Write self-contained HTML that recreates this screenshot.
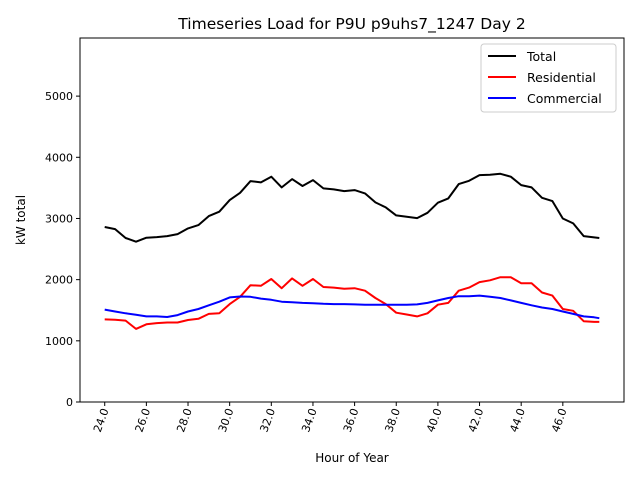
<!DOCTYPE html>
<html><head><meta charset="utf-8"><style>
body{margin:0;background:#fff;}
svg text{font-family:"DejaVu Sans","Liberation Sans",sans-serif;}
</style></head><body>
<svg id="chart" width="640" height="480">
<text x="352" y="29" font-size="15.5" text-anchor="middle">Timeseries Load for P9U p9uhs7_1247  Day 2</text>
<g id="plot"></g>
<text x="352" y="462" font-size="12" text-anchor="middle">Hour of Year</text>
<text x="25" y="220" font-size="12" text-anchor="middle" transform="rotate(-90 25 220)">kW total</text>
</svg>
<script>
const hours=[24,24.5,25,25.5,26,26.5,27,27.5,28,28.5,29,29.5,30,30.5,31,31.5,32,32.5,33,33.5,34,34.5,35,35.5,36,36.5,37,37.5,38,38.5,39,39.5,40,40.5,41,41.5,42,42.5,43,43.5,44,44.5,45,45.5,46,46.5,47,47.5,47.75];
const total=[2860,2827,2680,2620,2685,2695,2712,2745,2838,2892,3039,3110,3300,3420,3611,3590,3682,3508,3644,3530,3627,3491,3475,3448,3464,3410,3263,3181,3050,3028,3006,3093,3257,3328,3562,3616,3709,3714,3730,3682,3546,3508,3338,3284,3000,2920,2712,2690,2680];
const residential=[1350,1345,1330,1195,1270,1290,1300,1300,1340,1360,1440,1450,1600,1720,1910,1900,2010,1860,2020,1900,2010,1880,1870,1850,1860,1820,1700,1600,1460,1430,1400,1450,1590,1620,1820,1870,1960,1990,2040,2040,1940,1940,1790,1740,1520,1490,1320,1310,1310];
const commercial=[1510,1480,1450,1425,1400,1400,1390,1420,1480,1520,1580,1640,1710,1725,1720,1690,1670,1640,1630,1620,1615,1605,1600,1600,1595,1590,1590,1590,1590,1590,1595,1620,1660,1700,1730,1730,1740,1720,1700,1660,1620,1580,1545,1520,1480,1440,1400,1385,1370];
const yTicks=[0,1000,2000,3000,4000,5000];
const xTicks=[24,26,28,30,32,34,36,38,40,42,44,46];
const seriesNames=["Total","Residential","Commercial"];
const seriesColors=["#000000","#ff0000","#0000ff"];
const L=80,R=624,T=38,B=402;
const xMin=22.8125,xMax=48.9375,yMin=0,yMax=5950;
const xs=h=>L+(h-xMin)/(xMax-xMin)*(R-L);
const ys=v=>B-(v-yMin)/(yMax-yMin)*(B-T);
const NS="http://www.w3.org/2000/svg";
const g=document.getElementById('plot');
function mk(t,a){const e=document.createElementNS(NS,t);for(const k in a)e.setAttribute(k,a[k]);g.appendChild(e);return e;}
[total,residential,commercial].forEach((s,i)=>{
 const p=mk('polyline',{points:s.map((v,j)=>xs(hours[j]).toFixed(1)+','+ys(v).toFixed(1)).join(' '),fill:'none',stroke:seriesColors[i],'stroke-width':2,'stroke-linejoin':'round'});
 
 
});
const frame=mk('rect',{x:L,y:T,width:R-L,height:B-T,fill:'none',stroke:'#000','stroke-width':1});


yTicks.forEach(v=>{
 const y=ys(v);
 const t=mk('line',{x1:L-4,x2:L,y1:y,y2:y,stroke:'#000'});
 
 
 const l=mk('text',{x:L-7,y:y+4,'font-size':11,'text-anchor':'end'});l.textContent=v;
 
 
});
xTicks.forEach(v=>{
 const x=xs(v);
 const t=mk('line',{x1:x,x2:x,y1:B,y2:B+4,stroke:'#000'});
 
 
 const l=mk('text',{x:x+4,y:B+8,'font-size':11,'text-anchor':'end',transform:`rotate(-70 ${x+4} ${B+8})`});l.textContent=v.toFixed(1);
 
 
});
const lg=mk('rect',{x:481,y:44,width:135,height:68,fill:'#fff',stroke:'#ccc',rx:3});


seriesNames.forEach((n,i)=>{
 const y=56+i*21;
 const ln=mk('line',{x1:488,x2:516,y1:y,y2:y,stroke:seriesColors[i],'stroke-width':2});
 
 
 const tx=mk('text',{x:527,y:y+5,'font-size':12.5});tx.textContent=n;
 
 
});
</script>
</body></html>
